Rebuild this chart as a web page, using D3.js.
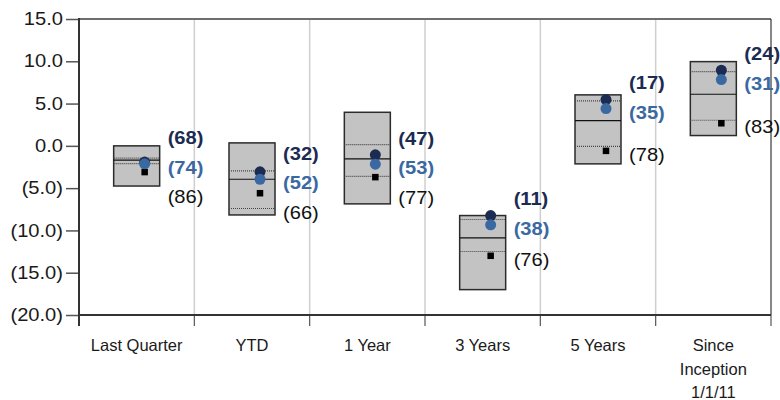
<!DOCTYPE html>
<html>
<head>
<meta charset="utf-8">
<script src="https://cdn.jsdelivr.net/npm/d3@7"></script>
<style>
  html, body { margin: 0; padding: 0; background: #fff; }
  svg { display: block; font-family: "Liberation Sans", Arial, sans-serif; }
</style>
</head>
<body>
<svg id="chart" width="780" height="400"></svg>
<script>
// ---- data ----
const categories = [["Last Quarter"], ["YTD"], ["1 Year"], ["3 Years"], ["5 Years"], ["Since", "Inception", "1/1/11"]];
const yTicks = [15, 10, 5, 0, -5, -10, -15, -20];
const p95 = [0.0, 0.35, 3.97, -8.24, 6.03, 9.96];
const p75 = [-1.44, -2.95, 0.15, -8.71, 5.32, 8.78];
const median = [-1.68, -3.95, -1.54, -10.87, 2.99, 6.1];
const p25 = [-2.1, -7.41, -3.6, -12.49, -0.05, 3.03];
const p05 = [-4.75, -8.17, -6.86, -17.0, -2.13, 1.22];
const darkSeries = [-1.92, -3.07, -1.06, -8.24, 5.47, 8.94];
const blueSeries = [-2.12, -3.95, -2.17, -9.34, 4.41, 7.84];
const blackSeries = [-3.1, -5.6, -3.7, -13.0, -0.59, 2.67];
const darkRanks = [68, 32, 47, 11, 17, 24];
const blueRanks = [74, 52, 53, 38, 35, 31];
const blackRanks = [86, 66, 77, 76, 78, 83];

(function () {
// ---- style ----
const DARK = "#1c2b52";
const BLUE = "#3a69a2";
const numScale = 1.15;

const svg = d3.select("#chart");
const pLeft = 79, pRight = 771, pTop = 19, pBottom = 315;
const idx = categories.map((d, i) => i);
const x = d3.scaleBand().domain(idx).range([pLeft, pRight]).paddingInner(0).paddingOuter(0);
const y = d3.scaleLinear().domain([-20, 15]).range([pBottom, pTop]);
const bw = x.bandwidth();
const cx = i => x(i) + bw / 2;

const fmt = v => v < 0 ? "(" + Math.abs(v).toFixed(1) + ")" : v.toFixed(1);

// vertical gridlines at internal boundaries
const bounds = d3.range(categories.length + 1).map(i => pLeft + i * x.step());
svg.append("g").selectAll("line").data(bounds.slice(1, -1)).join("line")
  .attr("x1", d => d).attr("x2", d => d)
  .attr("y1", pTop).attr("y2", pBottom)
  .attr("stroke", "#cfcfcf").attr("stroke-width", 1.5);

// bottom ticks at boundaries
svg.append("g").selectAll("line").data(bounds).join("line")
  .attr("x1", d => d).attr("x2", d => d)
  .attr("y1", pBottom).attr("y2", pBottom + 11)
  .attr("stroke", "#555").attr("stroke-width", 1.2);

// top border
svg.append("line").attr("x1", pLeft).attr("x2", pRight).attr("y1", pTop).attr("y2", pTop)
  .attr("stroke", "#6e6e6e").attr("stroke-width", 1.8);
// right border
svg.append("line").attr("x1", pRight).attr("x2", pRight).attr("y1", pTop).attr("y2", pBottom)
  .attr("stroke", "#111").attr("stroke-width", 1);

// y axis
const yAxis = svg.append("g").attr("transform", `translate(${pLeft},0)`)
  .call(d3.axisLeft(y).tickValues(yTicks).tickSize(13).tickSizeOuter(0).tickPadding(3).tickFormat(fmt));
yAxis.select(".domain").remove();
yAxis.selectAll(".tick line").attr("stroke", "#555").attr("stroke-width", 1.5);
yAxis.selectAll(".tick text").each(function () {
  const t = d3.select(this);
  const xx = +t.attr("x");
  t.attr("x", 0).attr("transform", `translate(${xx},0) scale(${numScale},1)`);
})
  .attr("font-size", 17.5).attr("fill", "#1a1a1a")
  .attr("font-family", "'Liberation Sans', Arial, sans-serif");

// left axis line and bottom axis line
svg.append("line").attr("x1", pLeft).attr("x2", pLeft).attr("y1", pTop - 1).attr("y2", pBottom + 11)
  .attr("stroke", "#333").attr("stroke-width", 2);
svg.append("line").attr("x1", pLeft).attr("x2", pRight).attr("y1", pBottom).attr("y2", pBottom)
  .attr("stroke", "#333").attr("stroke-width", 2);

// category labels
const cat = svg.append("g").selectAll("text").data(categories).join("text")
  .attr("x", (d, i) => cx(i)).attr("y", 351)
  .attr("text-anchor", "middle").attr("font-size", 16.5).attr("fill", "#1a1a1a");
cat.selectAll("tspan").data(d => d).join("tspan")
  .attr("x", function () { return d3.select(this.parentNode).attr("x"); })
  .attr("dy", (d, j) => j === 0 ? 0 : 23.5)
  .text(d => d);

// boxes
const boxW = 46;
const g = svg.append("g");
idx.forEach(i => {
  const c = cx(i);
  g.append("rect")
    .attr("x", c - boxW / 2).attr("y", y(p95[i]))
    .attr("width", boxW).attr("height", y(p05[i]) - y(p95[i]))
    .attr("fill", "#c3c3c3").attr("stroke", "#2b2b2b").attr("stroke-width", 1.5);
  [p75[i], p25[i]].forEach(v => {
    g.append("line").attr("x1", c - boxW / 2).attr("x2", c + boxW / 2)
      .attr("y1", y(v)).attr("y2", y(v))
      .attr("stroke", "#444").attr("stroke-width", 1.2).attr("stroke-dasharray", "1,1");
  });
  g.append("line").attr("x1", c - boxW / 2).attr("x2", c + boxW / 2)
    .attr("y1", y(median[i])).attr("y2", y(median[i]))
    .attr("stroke", "#111").attr("stroke-width", 1.2);
});

// points
const px = i => cx(i) + 8;
const sq = 6.5;
g.selectAll("rect.sq").data(idx).join("rect").attr("class", "sq")
  .attr("x", i => px(i) - sq / 2).attr("y", i => y(blackSeries[i]) - sq / 2)
  .attr("width", sq).attr("height", sq).attr("fill", "#000");
g.selectAll("circle.dk").data(idx).join("circle").attr("class", "dk")
  .attr("cx", px).attr("cy", i => y(darkSeries[i])).attr("r", 5.5).attr("fill", DARK);
g.selectAll("circle.bl").data(idx).join("circle").attr("class", "bl")
  .attr("cx", px).attr("cy", i => y(blueSeries[i])).attr("r", 5.5).attr("fill", BLUE);

// rank labels
const gap = 29.5;
const lab = svg.append("g").attr("font-size", 17.5);
idx.forEach(i => {
  const lx = cx(i) + 31;
  const bl = y(blueSeries[i]) + 4;
  const dk = Math.min(y(darkSeries[i]) + 4, bl - gap);
  const bk = Math.max(y(blackSeries[i]) + 4, bl + gap);
  [[dk, darkRanks[i], DARK, "bold"], [bl, blueRanks[i], BLUE, "bold"], [bk, blackRanks[i], "#111", "normal"]]
    .forEach(([yy, r, col, w]) => {
      lab.append("text")
        .attr("transform", `translate(${lx},${yy}) scale(${numScale},1)`)
        .attr("dy", "0.35em")
        .attr("fill", col).attr("font-weight", w)
        .text("(" + r + ")");
    });
});
})();
</script>
</body>
</html>
